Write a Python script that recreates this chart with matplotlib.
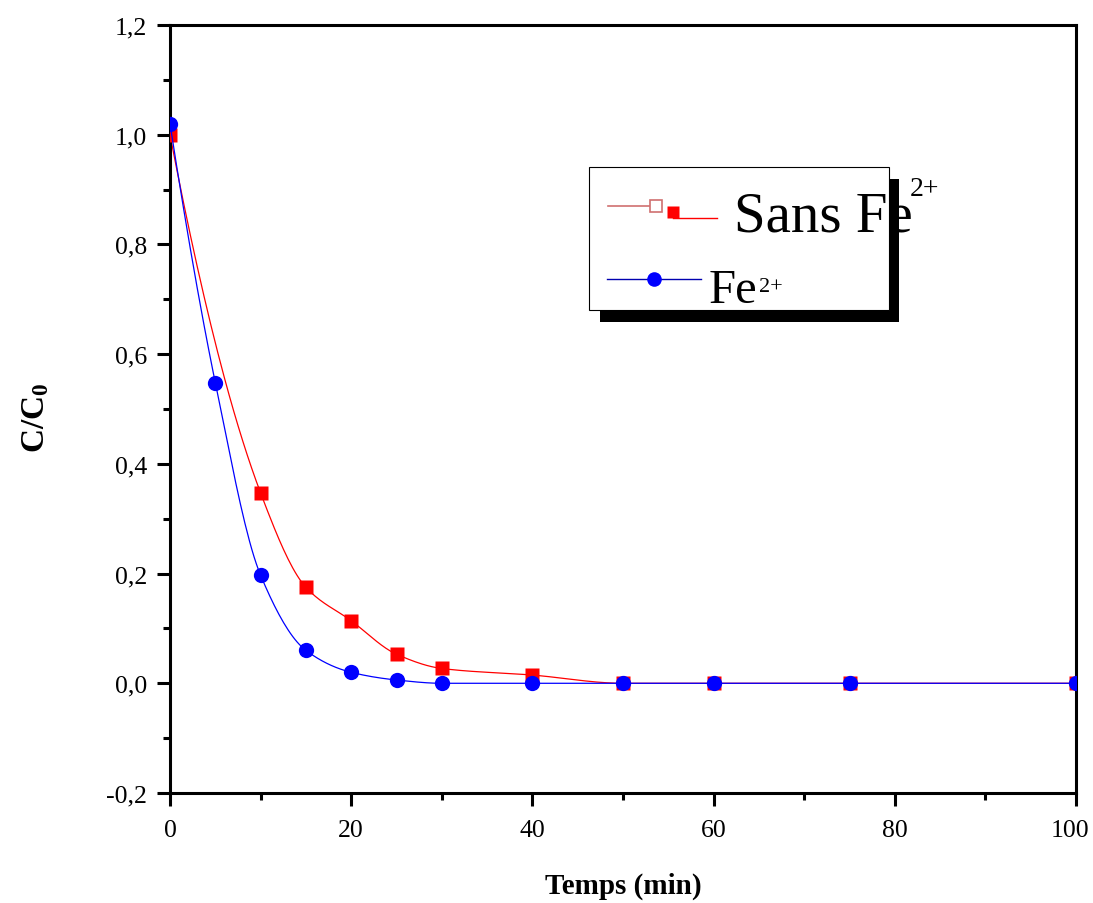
import numpy as np
import matplotlib
matplotlib.use('Agg')
import matplotlib.pyplot as plt
from matplotlib.ticker import MultipleLocator, FuncFormatter
from matplotlib.patches import Rectangle
from matplotlib.lines import Line2D
from matplotlib.transforms import ScaledTranslation

# data
t_sans = [0, 10, 15, 20, 25, 30, 40, 50, 60, 75, 100]
c_sans = [1.0, 0.347, 0.175, 0.114, 0.053, 0.027, 0.015, 0, 0, 0, 0]
t_fe = [0, 5, 10, 15, 20, 25, 30, 40, 50, 60, 75, 100]
c_fe = [1.02, 0.548, 0.197, 0.060, 0.020, 0.006, 0, 0, 0, 0, 0, 0]

plt.rcParams['font.family'] = ['Liberation Serif', 'DejaVu Serif']
plt.rcParams['mathtext.fontset'] = 'custom'
plt.rcParams['mathtext.rm'] = 'Liberation Serif'
plt.rcParams['mathtext.bf'] = 'Liberation Serif:bold'

W, H = 1093, 904


def smooth(x, y, n=400):
    # monotone cubic curve through the points (like the Origin spline line)
    x = np.asarray(x, float)
    y = np.asarray(y, float)
    h = np.diff(x)
    d = np.diff(y) / h
    m = np.zeros_like(y)
    for k in range(1, len(x) - 1):
        if d[k - 1] * d[k] > 0:
            w1 = 2 * h[k] + h[k - 1]
            w2 = h[k] + 2 * h[k - 1]
            m[k] = (w1 + w2) / (w1 / d[k - 1] + w2 / d[k])
    m0 = ((2 * h[0] + h[1]) * d[0] - h[0] * d[1]) / (h[0] + h[1])
    if np.sign(m0) != np.sign(d[0]):
        m0 = 0
    m[0] = m0
    m[-1] = d[-1]
    xn = np.linspace(x[0], x[-1], n)
    i = np.clip(np.searchsorted(x, xn) - 1, 0, len(h) - 1)
    s = (xn - x[i]) / h[i]
    h00 = 2 * s**3 - 3 * s**2 + 1
    h10 = s**3 - 2 * s**2 + s
    h01 = -2 * s**3 + 3 * s**2
    h11 = s**3 - s**2
    yn = h00 * y[i] + h10 * h[i] * m[i] + h01 * y[i + 1] + h11 * h[i] * m[i + 1]
    return xn, yn


fig = plt.figure(figsize=(W / 100, H / 100), dpi=100)
ax = fig.add_axes([170 / W, 110 / H, 906 / W, 768 / H])

xs, ys = smooth(t_sans, c_sans)
ax.plot(xs, ys, color='#ff0000', lw=0.9, zorder=2)
ax.plot(t_sans, c_sans, 's', color='#ff0000', ms=9.5, mec='none', zorder=3)
xf, yf = smooth(t_fe, c_fe)
ax.plot(xf, yf, color='#0000ff', lw=0.9, zorder=4)
ax.plot(t_fe, c_fe, 'o', color='#0000ff', ms=11, mec='none', zorder=5)

ax.set_xlim(0, 100)
ax.set_ylim(-0.2, 1.2)
ax.xaxis.set_major_locator(MultipleLocator(20))
ax.xaxis.set_minor_locator(MultipleLocator(10))
ax.yaxis.set_major_locator(MultipleLocator(0.2))
ax.yaxis.set_minor_locator(MultipleLocator(0.1))
ax.yaxis.set_major_formatter(FuncFormatter(lambda v, p: ('%.1f' % v).replace('.', ',').replace('-0,0', '0,0')))

for s in ax.spines.values():
    s.set_linewidth(2.2)
ax.tick_params(which='both', direction='out', width=2.2, top=False, right=False, labelsize=18.5)
ax.tick_params(which='major', length=9.5)
ax.tick_params(which='minor', length=5)
ax.tick_params(axis='x', pad=9)
ax.tick_params(axis='y', pad=7)

ax.set_xlabel('Temps (min)', fontsize=21, fontweight='bold', va='center')
ax.xaxis.set_label_coords(0.5, -(886 - 794) / 768)
ax.set_ylabel(r'$\mathbf{C/C_0}$', fontsize=24, va='center')
ax.yaxis.set_label_coords((36 - 170) / 906, 0.49)

# the "100" label sits a little to the left in the original
fig.canvas.draw()
locs = np.asarray(ax.xaxis.get_majorticklocs())
ticks = ax.xaxis.get_major_ticks(len(locs))
lbl = ticks[int(np.argmin(np.abs(locs - 100)))].label1
lbl.set_transform(lbl.get_transform() + ScaledTranslation(-0.06, 0, fig.dpi_scale_trans))


# legend box drawn by hand, pixel positions
def fx(px):
    return px / W


def fy(py):
    return 1 - py / H


tf = fig.transFigure
fig.add_artist(Rectangle((fx(600), fy(323)), (899 - 600) / W, (323 - 180) / H,
                         facecolor='black', edgecolor='none', transform=tf, zorder=6))
fig.add_artist(Rectangle((fx(589), fy(311)), (889 - 589) / W, (311 - 168) / H,
                         facecolor='white', edgecolor='black', lw=0.8, transform=tf, zorder=7))
fig.add_artist(Line2D([fx(608), fx(650)], [fy(207), fy(207)], color='#d07070', lw=1.2, transform=tf, zorder=8))
fig.add_artist(Line2D([fx(656)], [fy(207)], marker='s', ms=8, mfc='white', mec='#d07070', mew=1.2,
                      transform=tf, zorder=8))
fig.add_artist(Line2D([fx(673), fx(717)], [fy(219), fy(219)], color='#ff0000', lw=1.0, transform=tf, zorder=8))
fig.add_artist(Line2D([fx(673)], [fy(213)], marker='s', ms=9, mfc='#ff0000', mec='none',
                      transform=tf, zorder=8))
fig.add_artist(Line2D([fx(607), fx(701)], [fy(280), fy(280)], color='#0000b0', lw=1.0, transform=tf, zorder=8))
fig.add_artist(Line2D([fx(654)], [fy(280)], marker='o', ms=10.5, mfc='#0000ff', mec='none',
                      transform=tf, zorder=8))
fig.text(fx(734), fy(232), 'Sans Fe', fontsize=41, va='baseline', zorder=9)
fig.text(fx(910), fy(196), '2+', fontsize=20, va='baseline', zorder=9)
fig.text(fx(709), fy(303), 'Fe', fontsize=35, va='baseline', zorder=9)
fig.text(fx(759), fy(292), '2+', fontsize=16, va='baseline', zorder=9)

fig.savefig('out.png', dpi=100)
